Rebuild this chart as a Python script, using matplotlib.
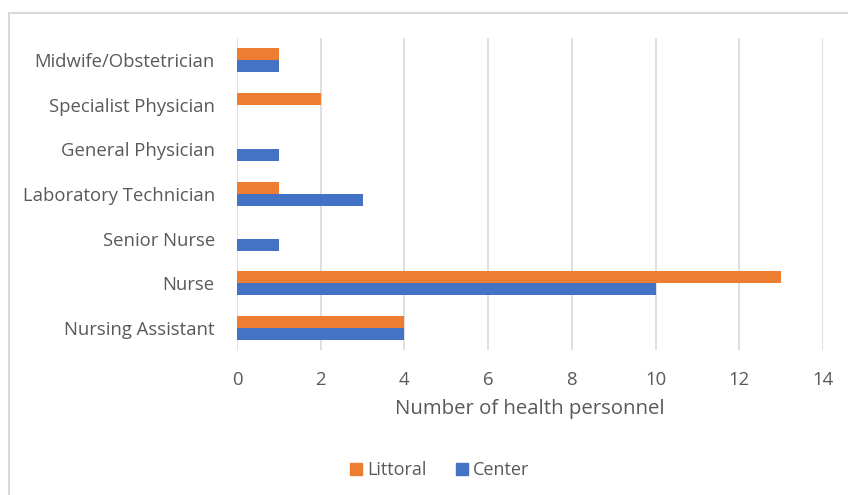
import matplotlib.pyplot as plt
from matplotlib.lines import Line2D
import numpy as np

# categories listed bottom to top
categories = ["Nursing Assistant", "Nurse", "Senior Nurse", "Laboratory Technician",
              "General Physician", "Specialist Physician", "Midwife/Obstetrician"]
littoral = [4, 13, 0, 1, 0, 2, 1]
center = [4, 10, 1, 3, 1, 0, 1]
xticks = [0, 2, 4, 6, 8, 10, 12, 14]

orange = "#ED7D31"
blue = "#4472C4"
txt = "#595959"

plt.rcParams['font.family'] = ['Open Sans', 'DejaVu Sans']

fig = plt.figure(figsize=(8.48, 4.95), dpi=100)
ax = fig.add_axes([237/848, 1-350/495, (823-237)/848, (350-38)/495])

y = np.arange(len(categories))
h = 0.27
ax.barh(y + h/2, littoral, height=h, color=orange, zorder=3)
ax.barh(y - h/2, center, height=h, color=blue, zorder=3)

ax.set_xlim(0, 14)
ax.set_ylim(-0.5, len(categories) - 0.5)
ax.set_xticks(xticks)
ax.set_yticks(y)
ax.set_yticklabels(categories)
ax.tick_params(axis='both', length=0, labelsize=13.3, colors=txt)
ax.tick_params(axis='y', pad=16)
ax.tick_params(axis='x', pad=15)
ax.grid(axis='x', color="#D9D9D9", linewidth=1.2, zorder=0)
for s in ax.spines.values():
    s.set_visible(False)
ax.set_xlabel("Number of health personnel", fontsize=14.7, color=txt, labelpad=7)

handles = [Line2D([], [], marker='s', linestyle='', color=orange, markersize=8),
           Line2D([], [], marker='s', linestyle='', color=blue, markersize=8)]
fig.legend(handles, ["Littoral", "Center"], loc='center', bbox_to_anchor=(0.517, 1-470/495),
           ncol=2, frameon=False, fontsize=13, labelcolor=txt, handletextpad=0.1,
           columnspacing=1.5, handlelength=1)

# chart frame (cut at right/bottom)
fig.add_artist(Line2D([9/848, 1], [1-13/495, 1-13/495], color="#D9D9D9", linewidth=1.5))
fig.add_artist(Line2D([9/848, 9/848], [0, 1-13/495], color="#D9D9D9", linewidth=1.5))

fig.savefig("out.png", dpi=100)
